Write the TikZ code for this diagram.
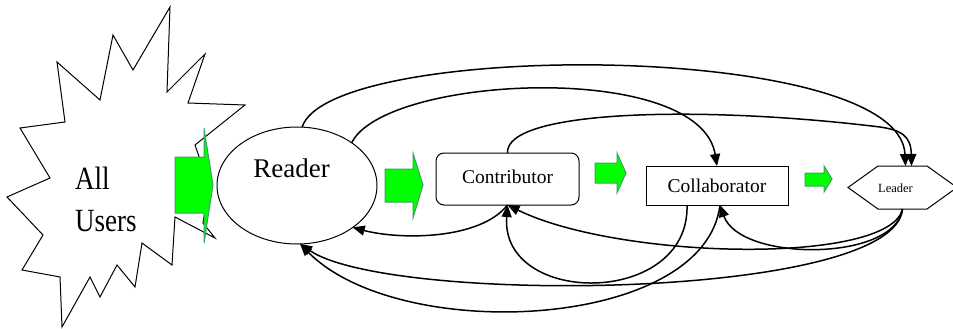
\documentclass[tikz,border=0pt]{standalone}
\usepackage{fontspec}
\setmainfont{Liberation Serif}
\usetikzlibrary{arrows.meta,shapes.geometric}
\definecolor{pushfill}{RGB}{0,255,0}
\definecolor{pushedge}{RGB}{60,160,100}

\begin{document}
\begin{tikzpicture}[x=1pt,y=-1pt,
  outline/.style={draw=black,line width=1pt,line join=miter},
  flow/.style={draw=black,line width=1.5pt,-{Triangle[length=12pt,width=10pt]}},
  push/.style={fill=pushfill,draw=pushedge,line width=1pt,line join=miter},
  lbl/.style={inner sep=0pt,font=\fontsize{#1}{#1}\selectfont},
  hidden/.style={inner sep=0pt,outer sep=0pt},
]
\useasboundingbox (0,0) rectangle (953,329);

% the crowd of all users
\draw[outline] (170,7) -- (167,92) -- (205,54) -- (188,103) -- (245,105)
  -- (195,145) -- (209,185) -- (203,223) -- (215,238) -- (175,217)
  -- (172,265) -- (142,243) -- (135,287) -- (117,265) -- (100,297)
  -- (90,277) -- (62,327) -- (60,277) -- (22,270) -- (43,235) -- (7,197)
  -- (50,178) -- (20,128) -- (65,122) -- (57,62) -- (100,100) -- (113,35)
  -- (133,70) -- cycle;
\node[lbl=27,anchor=base west] (all) at (75,189) {\scalebox{1}[1.2]{All}};
\node[lbl=27,anchor=base west] (users) at (75,231) {\scalebox{1}[1.2]{Users}};

% roles
\node[ellipse,outline,minimum width=160pt,minimum height=117pt,hidden] (reader) at (297,185.5) {};
\node[lbl=27] (readerlbl) at (291.5,167.8) {Reader};

\node[rectangle,rounded corners=8pt,outline,minimum width=143pt,minimum height=52pt,hidden] (contrib) at (507.5,179) {};
\node[lbl=19.5] (contriblbl) at (507.5,176.4) {Contributor};

\node[rectangle,outline,minimum width=142pt,minimum height=39pt,hidden] (collab) at (717,185.5) {};
\node[lbl=19.5] (collablbl) at (717,186) {Collaborator};

\node[rectangle,minimum width=109pt,minimum height=43pt,hidden] (leader) at (902.5,187.5) {};
\draw[outline] (leader.west) -- ([xshift=30pt]leader.north west) -- ([xshift=-30pt]leader.north east)
  -- (leader.east) -- ([xshift=-30pt]leader.south east) -- ([xshift=30pt]leader.south west) -- cycle;
\node[lbl=12.5] (leaderlbl) at (895.5,188) {Leader};

% progression arrows
\draw[push] (175,157) -- (204,157) -- (204,128) -- (213,185) -- (204,243) -- (204,213) -- (175,213) -- cycle;
\draw[push] (385,169) -- (413,169) -- (413,153) -- (423,185) -- (413,218) -- (413,202) -- (385,202) -- cycle;
\draw[push] (595,163) -- (617,163) -- (617,153) -- (626,173) -- (617,193) -- (617,183) -- (595,183) -- cycle;
\draw[push] (805,173) -- (824,173) -- (824,166) -- (832,179) -- (824,192) -- (824,186) -- (805,186) -- cycle;

% links over the top
\draw[flow] (reader.85) .. controls (330,40) and (900,40) .. ([xshift=3pt]leader.north);
\draw[flow] (reader.38) .. controls (385,75) and (700,60) .. (collab.north);
\draw[flow] (contrib.north) .. controls (505,110) and (700,105) .. (880,127)
  .. controls (900,130) and (911,135) .. ([xshift=9pt]leader.north);

% links underneath
\draw[flow] (contrib.south) .. controls (480,240) and (400,240) .. (reader.-37);
\draw[flow] (leader.south) .. controls (895,300) and (390,305) .. (reader.-87);
\draw[flow] ([xshift=3pt]collab.south) .. controls (705,330) and (400,345) .. (reader.-87);
\draw[flow] ([xshift=-30pt]collab.south) .. controls (690,307) and (500,307) .. (contrib.south);
\draw[flow] (leader.south) .. controls (890,265) and (620,260) .. (contrib.south);
\draw[flow] (leader.south) .. controls (895,262) and (740,262) .. ([xshift=3pt]collab.south);
\end{tikzpicture}
\end{document}
